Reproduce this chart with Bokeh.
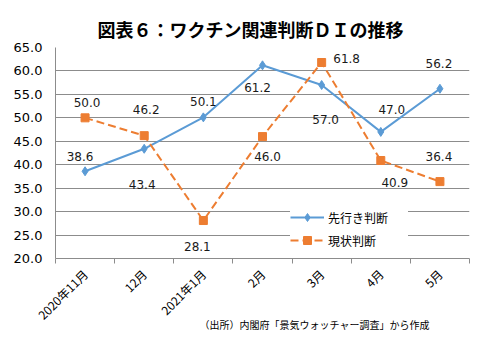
from math import pi
from bokeh.plotting import figure
from bokeh.models import (ColumnDataSource, FixedTicker, Range1d, Label, Legend,
                          LegendItem, PrintfTickFormatter)
from bokeh.embed import file_html
from bokeh.resources import INLINE
from bokeh.core.properties import value

# ---- data ----
categories = ["2020年11月", "12月", "2021年1月", "2月", "3月", "4月", "5月"]
forward = [38.6, 43.4, 50.1, 61.2, 57.0, 47.0, 56.2]   # 先行き判断
current = [50.0, 46.2, 28.1, 46.0, 61.8, 40.9, 36.4]   # 現状判断
y_ticks = [20, 25, 30, 35, 40, 45, 50, 55, 60, 65]
series_names = ["先行き判断", "現状判断"]
title_text = "図表６：ワクチン関連判断ＤＩの推移"
source_text = "（出所）内閣府「景気ウォッチャー調査」から作成"

# ---- label offsets (style, screen px) ----
fwd_dx = [-5, -2, 0, -5, 4, 11, -1]
fwd_dy = [-15, 36, -16, 22, 34, -22, -25]
cur_dx = [2, 2, -6, 5, 25, 14, -1]
cur_dy = [-15, -26, 26, 20, -4, 22, -25]

BLUE = "#5B9BD5"
ORANGE = "#ED7D31"
GRID = "#8C8C8C"

xpos = [i + 0.5 for i in range(len(categories))]

p = figure(width=503, height=354, x_range=Range1d(0, len(categories)),
           y_range=Range1d(y_ticks[0], y_ticks[-1]),
           output_backend="svg", toolbar_location=None,
           min_border_left=55, min_border_right=34, min_border_top=47,
           min_border_bottom=96)
p.outline_line_color = None
p.background_fill_color = "white"

# title
p.title.text = title_text
p.title.text_font = "Noto Sans CJK JP"
p.title.text_font_size = "18px"
p.title.text_font_style = "bold"
p.title.align = "left"
p.title.offset = 42
p.title.standoff = 12
p.title.text_color = "black"

# grids
p.xgrid.visible = False
p.ygrid.ticker = FixedTicker(ticks=y_ticks)
p.ygrid.grid_line_color = GRID

# y axis
p.yaxis.ticker = FixedTicker(ticks=y_ticks)
p.yaxis.formatter = PrintfTickFormatter(format="%.1f")
p.yaxis.axis_line_color = GRID
p.yaxis.major_tick_out = 0
p.yaxis.major_tick_in = 0
p.yaxis.minor_tick_line_color = None
p.yaxis.major_label_standoff = 13
p.yaxis.major_label_text_font = "DejaVu Sans"
p.yaxis.major_label_text_font_size = "13px"
p.yaxis.major_label_text_color = "black"

# x axis
p.xaxis.ticker = FixedTicker(ticks=xpos, minor_ticks=list(range(len(categories) + 1)))
p.xaxis.major_label_overrides = {x: c for x, c in zip(xpos, categories)}
p.xaxis.major_label_orientation = pi / 4
p.xaxis.axis_line_color = GRID
p.xaxis.major_tick_out = 0
p.xaxis.major_tick_in = 0
p.xaxis.minor_tick_out = 5
p.xaxis.minor_tick_in = 0
p.xaxis.minor_tick_line_color = GRID
p.xaxis.major_label_standoff = 8
p.xaxis.major_label_text_font = "Noto Sans CJK JP"
p.xaxis.major_label_text_font_size = "12px"
p.xaxis.major_label_text_color = "black"

src_f = ColumnDataSource(dict(x=xpos, y=forward, t=[f"{v:.1f}" for v in forward],
                              dx=fwd_dx, dy=fwd_dy))
src_c = ColumnDataSource(dict(x=xpos, y=current, t=[f"{v:.1f}" for v in current],
                              dx=cur_dx, dy=cur_dy))

l1 = p.line("x", "y", source=src_f, line_color=BLUE, line_width=2)
s1 = p.scatter("x", "y", source=src_f, marker="diamond", size=9,
               fill_color=BLUE, line_color=BLUE)
l2 = p.line("x", "y", source=src_c, line_color=ORANGE, line_width=2, line_dash="8 4")
s2 = p.scatter("x", "y", source=src_c, marker="square", size=8,
               fill_color=ORANGE, line_color=ORANGE)

for src in (src_f, src_c):
    p.text("x", "y", text="t", source=src, x_offset="dx", y_offset="dy",
           text_align="center", text_baseline="middle",
           text_font=value("DejaVu Sans"), text_font_size="12px", text_color="#1a1a1a")

legend = Legend(items=[LegendItem(label=series_names[0], renderers=[l1, s1]),
                       LegendItem(label=series_names[1], renderers=[l2, s2])],
                location=(235, 8))
legend.glyph_width = 34
legend.glyph_height = 20
legend.label_height = 20
legend.label_width = 80
legend.spacing = 3
legend.padding = 6
legend.margin = 0
legend.label_standoff = 4
legend.label_text_font = "Noto Sans CJK JP"
legend.label_text_font_size = "12px"
legend.label_text_color = "black"
legend.background_fill_color = "white"
legend.background_fill_alpha = 1
legend.border_line_color = None
p.add_layout(legend, "center")

note = Label(text=source_text, x=144, y=22, x_units="screen", y_units="screen",
             text_align="left", text_baseline="middle",
             text_font="Noto Sans CJK JP", text_font_size="10px", text_color="black")
p.add_layout(note, "below")

open("out.html", "w").write(file_html(p, INLINE))
